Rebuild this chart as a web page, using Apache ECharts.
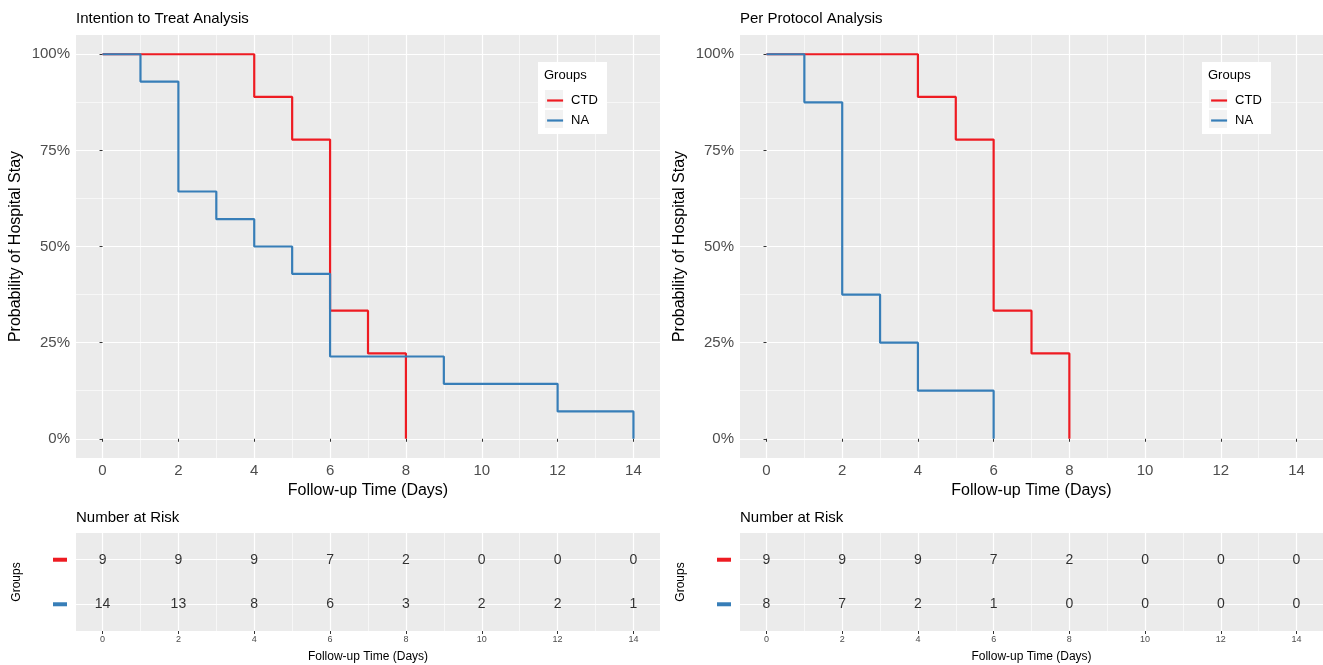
<!DOCTYPE html>
<html>
<head>
<meta charset="utf-8">
<script src="https://cdn.jsdelivr.net/npm/echarts@6/dist/echarts.min.js"></script>
<style>
  html, body { margin: 0; padding: 0; background: #fff; }
  #chart { width: 1323px; height: 665px; }
</style>
</head>
<body>
<div id="chart"></div>
<script>
// ---------- data ----------
const groups = ['CTD', 'NA'];
const timeTicks = [0, 2, 4, 6, 8, 10, 12, 14];
const minorTimeTicks = [1, 3, 5, 7, 9, 11, 13];
const probTicks = [0, 25, 50, 75, 100];
const minorProbTicks = [12.5, 37.5, 62.5, 87.5];

// Kaplan-Meier steps [time, survival %]
const ittCTD = [[0, 100], [4, 88.9], [5, 77.8], [6, 33.3], [7, 22.2], [8, 0]];
const ittNA = [[0, 100], [1, 92.9], [2, 64.3], [3, 57.1], [4, 50], [5, 42.9], [6, 21.4], [9, 14.3], [12, 7.1], [14, 0]];
const ppCTD = [[0, 100], [4, 88.9], [5, 77.8], [6, 33.3], [7, 22.2], [8, 0]];
const ppNA = [[0, 100], [1, 87.5], [2, 37.5], [3, 25], [4, 12.5], [6, 0]];

// Number at risk
const riskTimes = [0, 2, 4, 6, 8, 10, 12, 14];
const ittRiskCTD = [9, 9, 9, 7, 2, 0, 0, 0];
const ittRiskNA = [14, 13, 8, 6, 3, 2, 2, 1];
const ppRiskCTD = [9, 9, 9, 7, 2, 0, 0, 0];
const ppRiskNA = [8, 7, 2, 1, 0, 0, 0, 0];

// ---------- styling ----------
const FONT = '"Liberation Sans", Arial, Helvetica, sans-serif';
const RED = '#EE1B22';
const BLUE = '#377EB8';
const PANEL = '#EBEBEB';

const chart = echarts.init(document.getElementById('chart'), null, { renderer: 'canvas' });

function majorX(grid, opts) {
  return {
    type: 'value', gridIndex: grid, min: -0.7, max: 14.7, position: 'bottom',
    axisLine: { show: false },
    axisTick: { show: true, customValues: timeTicks, length: 3, lineStyle: { color: '#333333', width: 1 } },
    axisLabel: { show: true, customValues: timeTicks, color: '#4D4D4D', fontSize: opts.labelSize, fontFamily: FONT, margin: opts.margin },
    splitLine: { show: true, lineStyle: { color: '#FFFFFF', width: 1.2 } },
    name: 'Follow-up Time (Days)', nameLocation: 'middle', nameGap: opts.nameGap,
    nameTextStyle: { color: '#000', fontSize: opts.nameSize, fontFamily: FONT }
  };
}
function minorX(grid) {
  return {
    type: 'value', gridIndex: grid, min: -0.7, max: 14.7, position: 'bottom',
    axisLine: { show: false },
    axisTick: { show: false, customValues: minorTimeTicks },
    axisLabel: { show: false },
    splitLine: { show: true, lineStyle: { color: '#FFFFFF', width: 0.6 } }
  };
}
function majorY(grid) {
  return {
    type: 'value', gridIndex: grid, min: -5, max: 105, position: 'left',
    axisLine: { show: false },
    axisTick: { show: true, customValues: probTicks, length: 3, lineStyle: { color: '#333333', width: 1 } },
    axisLabel: { show: true, customValues: probTicks, color: '#4D4D4D', fontSize: 15, fontFamily: FONT, margin: 6,
      formatter: v => v + '%' },
    splitLine: { show: true, lineStyle: { color: '#FFFFFF', width: 1.2 } },
    name: 'Probability of Hospital Stay', nameLocation: 'middle', nameGap: 52,
    nameTextStyle: { color: '#000', fontSize: 16, fontFamily: FONT }
  };
}
function minorY(grid) {
  return {
    type: 'value', gridIndex: grid, min: -5, max: 105, position: 'left',
    axisLine: { show: false },
    axisTick: { show: false, customValues: minorProbTicks },
    axisLabel: { show: false },
    splitLine: { show: true, lineStyle: { color: '#FFFFFF', width: 0.6 } }
  };
}
function riskY(grid) {
  return {
    type: 'value', gridIndex: grid, min: 0.4, max: 2.6, inverse: true, position: 'left',
    axisLine: { show: false },
    axisTick: { show: false, customValues: [1, 2] },
    axisLabel: {
      show: true, customValues: [1, 2], margin: 9,
      formatter: v => (v === 1 ? '{ctd| }' : '{na| }'),
      rich: {
        ctd: { backgroundColor: RED, width: 14, height: 4, lineHeight: 4, fontSize: 2 },
        na: { backgroundColor: BLUE, width: 14, height: 4, lineHeight: 4, fontSize: 2 }
      }
    },
    splitLine: { show: true, lineStyle: { color: '#FFFFFF', width: 1.2 } },
    name: 'Groups', nameLocation: 'middle', nameGap: 53,
    nameTextStyle: { color: '#000', fontSize: 12, fontFamily: FONT }
  };
}

function kmSeries(name, data, color, xi, yi) {
  return {
    type: 'line', name: name, data: data, step: 'end', xAxisIndex: xi, yAxisIndex: yi,
    symbol: 'none', showSymbol: false, silent: true, z: 3,
    lineStyle: { color: color, width: 2.2 }, itemStyle: { color: color }
  };
}
function riskSeries(name, counts, row, xi, yi) {
  return {
    type: 'scatter', name: name + ' risk', xAxisIndex: xi, yAxisIndex: yi, silent: true, z: 4,
    data: riskTimes.map((t, i) => [t, row, counts[i]]),
    symbol: 'circle', symbolSize: 1, itemStyle: { color: 'rgba(0,0,0,0)' },
    label: { show: true, position: 'inside', formatter: p => String(p.value[2]), color: '#000', fontSize: 14, fontFamily: FONT }
  };
}

function legendGraphics(left) {
  return [
    { type: 'rect', left: left, top: 62, shape: { width: 69, height: 72 }, style: { fill: '#FFFFFF' }, z: 3, silent: true },
    { type: 'text', left: left + 6, top: 69, style: { text: 'Groups', fontSize: 13, fontFamily: FONT, fill: '#000' }, z: 4, silent: true },
    { type: 'rect', left: left + 7, top: 90, shape: { width: 18, height: 18 }, style: { fill: '#F2F2F2' }, z: 4, silent: true },
    { type: 'rect', left: left + 7, top: 110, shape: { width: 18, height: 18 }, style: { fill: '#F2F2F2' }, z: 4, silent: true }
  ];
}
function legendBox(left) {
  return {
    data: groups, orient: 'vertical', left: left + 8, top: 94, padding: 0,
    itemWidth: 16, itemHeight: 14, itemGap: 7, z: 6, selectedMode: false,
    itemStyle: { opacity: 0 },
    lineStyle: { width: 2.2 },
    textStyle: { fontSize: 13, fontFamily: FONT, color: '#000', padding: [0, 0, 0, 3] }
  };
}

const option = {
  animation: false,
  backgroundColor: '#FFFFFF',
  title: [
    { text: 'Intention to Treat Analysis', left: 76, top: 11, padding: 0, textStyle: { fontSize: 15, fontWeight: 'normal', color: '#000', fontFamily: FONT } },
    { text: 'Per Protocol Analysis', left: 740, top: 11, padding: 0, textStyle: { fontSize: 15, fontWeight: 'normal', color: '#000', fontFamily: FONT } },
    { text: 'Number at Risk', left: 76, top: 510, padding: 0, textStyle: { fontSize: 15, fontWeight: 'normal', color: '#000', fontFamily: FONT } },
    { text: 'Number at Risk', left: 740, top: 510, padding: 0, textStyle: { fontSize: 15, fontWeight: 'normal', color: '#000', fontFamily: FONT } }
  ],
  legend: [legendBox(538), legendBox(1202)],
  graphic: legendGraphics(538).concat(legendGraphics(1202)),
  grid: [
    { left: 76, top: 35, width: 584, height: 423, show: true, backgroundColor: PANEL, borderWidth: 0 },
    { left: 740, top: 35, width: 583, height: 423, show: true, backgroundColor: PANEL, borderWidth: 0 },
    { left: 76, top: 533, width: 584, height: 98, show: true, backgroundColor: PANEL, borderWidth: 0 },
    { left: 740, top: 533, width: 583, height: 98, show: true, backgroundColor: PANEL, borderWidth: 0 }
  ],
  xAxis: [
    majorX(0, { labelSize: 15, margin: 5, nameGap: 23, nameSize: 16 }), minorX(0),
    majorX(1, { labelSize: 15, margin: 5, nameGap: 23, nameSize: 16 }), minorX(1),
    majorX(2, { labelSize: 9, margin: 4, nameGap: 20, nameSize: 12 }), minorX(2),
    majorX(3, { labelSize: 9, margin: 4, nameGap: 20, nameSize: 12 }), minorX(3)
  ],
  yAxis: [
    majorY(0), minorY(0), majorY(1), minorY(1), riskY(2), riskY(3)
  ],
  series: [
    kmSeries('CTD', ittCTD, RED, 0, 0),
    kmSeries('NA', ittNA, BLUE, 0, 0),
    kmSeries('CTD', ppCTD, RED, 2, 2),
    kmSeries('NA', ppNA, BLUE, 2, 2),
    riskSeries('CTD', ittRiskCTD, 1, 4, 4),
    riskSeries('NA', ittRiskNA, 2, 4, 4),
    riskSeries('CTD', ppRiskCTD, 1, 6, 5),
    riskSeries('NA', ppRiskNA, 2, 6, 5)
  ]
};
chart.setOption(option);
</script>
</body>
</html>
